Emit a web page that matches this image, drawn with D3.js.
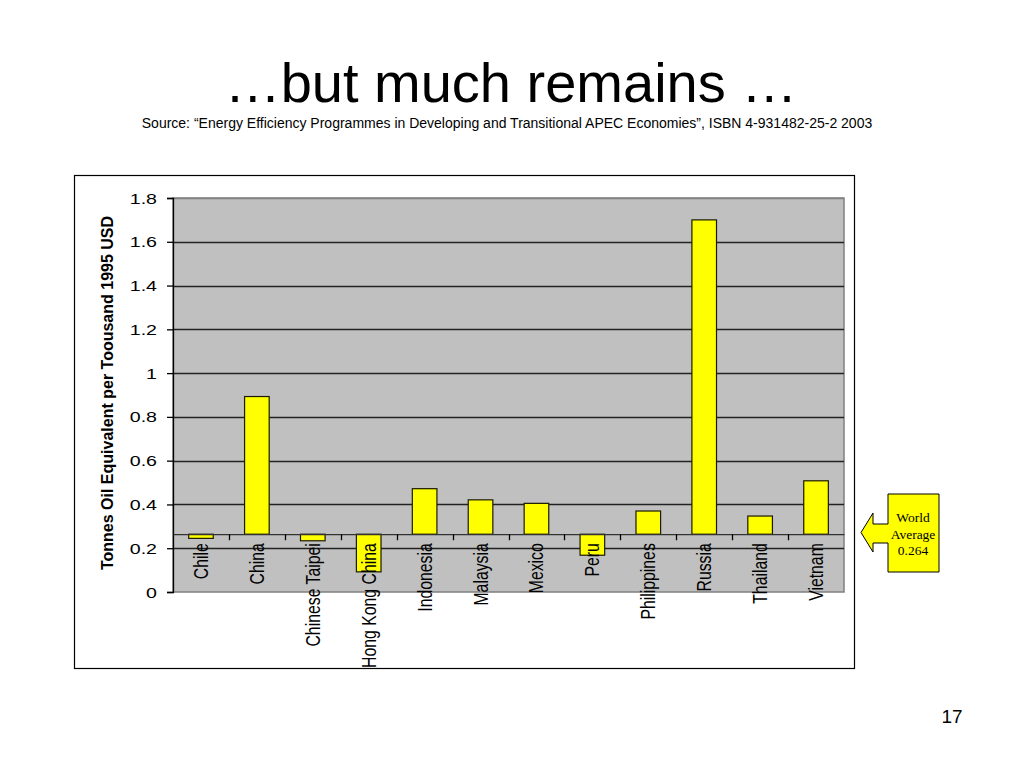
<!DOCTYPE html>
<html>
<head>
<meta charset="utf-8">
<script src="https://cdn.jsdelivr.net/npm/d3@7"></script>
<style>
  html, body { margin: 0; padding: 0; background: #fff; }
  svg { display: block; font-family: Arial, "Liberation Sans", sans-serif; }
</style>
</head>
<body>
<svg id="chart" width="1024" height="768"></svg>
<script>
// ---- Data ----
const categories = ["Chile", "China", "Chinese Taipei", "Hong Kong China", "Indonesia", "Malaysia",
                    "Mexico", "Peru", "Philippines", "Russia", "Thailand", "Vietnam"];
const values = [0.245, 0.893, 0.234, 0.092, 0.472, 0.421, 0.405, 0.168, 0.370, 1.700, 0.347, 0.508];
const worldAverage = 0.264;
const yTicks = [0, 0.2, 0.4, 0.6, 0.8, 1, 1.2, 1.4, 1.6, 1.8];
const yTickLabels = ["0", "0.2", "0.4", "0.6", "0.8", "1", "1.2", "1.4", "1.6", "1.8"];
const titleText = "\u2026but much remains \u2026";
const sourceText = "Source: \u201cEnergy Efficiency Programmes in Developing and Transitional APEC Economies\u201d, ISBN 4-931482-25-2 2003";
const yAxisTitle = "Tonnes Oil Equivalent per Toousand 1995 USD";
const calloutLines = ["World", "Average", "0.264"];
const pageNumber = "17";

// ---- Layout ----
const svg = d3.select("#chart");
const plot = { left: 173, right: 844, top: 198, bottom: 592 };

const x = d3.scaleBand().domain(categories).range([plot.left, plot.right]).paddingInner(0.56).paddingOuter(0.28);
const xBand = d3.scaleBand().domain(categories).range([plot.left, plot.right]);
const y = d3.scaleLinear().domain([0, 1.8]).range([plot.bottom, plot.top]);

// Title
svg.append("text").attr("x", 511).attr("y", 102).attr("text-anchor", "middle")
  .attr("font-size", 56).attr("fill", "#000").text(titleText);
svg.append("text").attr("x", 507).attr("y", 128).attr("text-anchor", "middle")
  .attr("font-size", 14).attr("fill", "#000").text(sourceText);

// Chart frame
svg.append("rect").attr("x", 74.5).attr("y", 175.5).attr("width", 780).attr("height", 493)
  .attr("fill", "#fff").attr("stroke", "#000").attr("stroke-width", 1.2);

// Plot area
svg.append("rect").attr("x", plot.left).attr("y", plot.top)
  .attr("width", plot.right - plot.left).attr("height", plot.bottom - plot.top)
  .attr("fill", "#c0c0c0").attr("stroke", "#808080").attr("stroke-width", 1.5);

// Gridlines
svg.append("g").selectAll("line").data(yTicks.filter(d => d > 0)).join("line")
  .attr("x1", plot.left).attr("x2", plot.right)
  .attr("y1", d => Math.round(y(d)) + 0.5).attr("y2", d => Math.round(y(d)) + 0.5)
  .attr("stroke", d => d === 1.8 ? "#808080" : "#222").attr("stroke-width", 1.3);

// Y axis
const yAxis = d3.axisLeft(y).tickValues(yTicks).tickSize(6).tickFormat((d, i) => yTickLabels[i]);
const yg = svg.append("g").attr("transform", `translate(${plot.left},0)`).call(yAxis);
yg.select(".domain").attr("stroke", "#000").attr("stroke-width", 1.3);
yg.selectAll(".tick line").attr("stroke", "#000").attr("stroke-width", 1.3);
yg.selectAll(".tick text").remove();
yg.selectAll(".tick").append("text")
  .attr("transform", "translate(-16,0) scale(1.4,1)")
  .attr("text-anchor", "end").attr("dy", "0.36em")
  .attr("font-size", 14).attr("fill", "#000")
  .text((d, i) => yTickLabels[i]);

// Y axis title
svg.append("text")
  .attr("transform", `translate(113,${(plot.top + plot.bottom) / 2 - 2}) rotate(-90)`)
  .attr("text-anchor", "middle").attr("font-size", 16).attr("font-weight", "bold")
  .attr("fill", "#000").text(yAxisTitle);

// Bars (from world-average baseline)
const y0 = y(worldAverage);
svg.append("g").selectAll("rect").data(values).join("rect")
  .attr("x", (d, i) => x(categories[i]))
  .attr("width", x.bandwidth())
  .attr("y", d => Math.min(y(d), y0))
  .attr("height", d => Math.abs(y(d) - y0))
  .attr("fill", "#ffff00").attr("stroke", "#1a1a00").attr("stroke-width", 1.2);

// X axis at world average
const xAxis = d3.axisBottom(xBand).tickSize(0).tickFormat("");
const xg = svg.append("g").attr("transform", `translate(0,${y0})`).call(xAxis);
xg.select(".domain").attr("stroke", "#333").attr("stroke-width", 1.3);
// boundary ticks
xg.append("g").selectAll("line").data(categories.slice(1)).join("line")
  .attr("x1", d => Math.round(xBand(d)) + 0.5).attr("x2", d => Math.round(xBand(d)) + 0.5)
  .attr("y1", 0).attr("y2", 6).attr("stroke", "#000").attr("stroke-width", 1.3);

// Category labels
svg.append("g").selectAll("text").data(categories).join("text")
  .attr("transform", d => `translate(${xBand(d) + xBand.bandwidth() / 2},${y0 + 9}) rotate(-90) scale(0.79,1)`)
  .attr("text-anchor", "end").attr("dy", "0.35em")
  .attr("font-size", 20).attr("fill", "#000").text(d => d);

// Callout (left arrow)
const cb = { l: 888, r: 939, t: 494, b: 572, tip: 861, headX: 873, headT: 513, headB: 552, shaftT: 524, shaftB: 543 };
const tipY = (cb.headT + cb.headB) / 2;
svg.append("path")
  .attr("d", `M${cb.l},${cb.t} L${cb.r},${cb.t} L${cb.r},${cb.b} L${cb.l},${cb.b} L${cb.l},${cb.shaftB}
              L${cb.headX},${cb.shaftB} L${cb.headX},${cb.headB} L${cb.tip},${tipY} L${cb.headX},${cb.headT}
              L${cb.headX},${cb.shaftT} L${cb.l},${cb.shaftT} Z`)
  .attr("fill", "#ffff00").attr("stroke", "#000").attr("stroke-width", 1);
svg.append("g").selectAll("text").data(calloutLines).join("text")
  .attr("x", 913).attr("y", (d, i) => 522 + i * 16.5).attr("text-anchor", "middle")
  .attr("font-family", "'Liberation Serif', 'Times New Roman', serif").attr("font-size", 13.5)
  .attr("fill", "#000").text(d => d);

// Page number
svg.append("text").attr("x", 952).attr("y", 723).attr("text-anchor", "middle")
  .attr("font-size", 19).attr("fill", "#000").text(pageNumber);
</script>
</body>
</html>
